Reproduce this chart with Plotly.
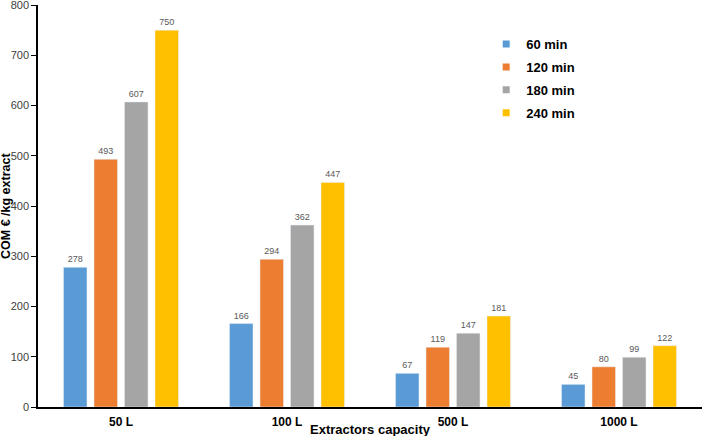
import plotly.graph_objects as go

categories = ["50 L", "100 L", "500 L", "1000 L"]
series_names = ["60 min", "120 min", "180 min", "240 min"]
v60 = [278, 166, 67, 45]
v120 = [493, 294, 119, 80]
v180 = [607, 362, 147, 99]
v240 = [750, 447, 181, 122]
colors = ["#5B9BD5", "#ED7D31", "#A5A5A5", "#FFC000"]

fig = go.Figure()
for name, vals, col in zip(series_names, [v60, v120, v180, v240], colors):
    fig.add_trace(go.Bar(
        x=categories, y=vals, name=name, marker_color=col, showlegend=False,
        text=[str(v) for v in vals], textposition="outside",
        textfont=dict(size=9, color="#595959", family="Liberation Sans, Arial"),
        cliponaxis=False,
    ))
# legend entries with small square symbols
for name, col in zip(series_names, colors):
    fig.add_trace(go.Scatter(
        x=[None], y=[None], mode="markers", name=name, legendgroup=name,
        marker=dict(symbol="square", size=7, color=col),
    ))

fig.update_layout(
    width=705, height=436,
    margin=dict(l=38, r=3, t=5, b=29),
    plot_bgcolor="white", paper_bgcolor="white",
    barmode="group", bargap=0.265, bargroupgap=0.23,
    font=dict(family="Liberation Sans, Arial", size=12, color="#000000"),
    showlegend=True,
    legend=dict(x=0.675, y=0.94, xanchor="left", yanchor="top",
                font=dict(size=13, color="#000000", family="Liberation Sans, Arial", weight="bold"),
                tracegroupgap=3, itemwidth=30, bgcolor="rgba(0,0,0,0)"),
    annotations=[
        dict(text="<b>Extractors capacity</b>", xref="paper", yref="paper",
             x=0.5, y=0, yshift=-22, xanchor="center", yanchor="middle",
             showarrow=False, font=dict(size=13, color="#000000")),
        dict(text="<b>COM € /kg extract</b>", xref="paper", yref="paper",
             x=0, y=0.5, xshift=-32, xanchor="center", yanchor="middle",
             textangle=-90, showarrow=False, borderpad=0,
             font=dict(size=12.5, color="#000000")),
    ],
)
fig.update_xaxes(
    showline=True, linecolor="#000000", linewidth=1.5,
    tickfont=dict(size=12, color="#000000", weight="bold"),
    ticks="", automargin=False, ticklabelstandoff=3,
)
fig.update_yaxes(
    range=[0, 800], dtick=100, showgrid=False, zeroline=False,
    showline=True, linecolor="#000000", linewidth=1.5,
    ticks="outside", ticklen=5, tickcolor="#000000",
    ticklabeloverflow="allow", automargin=False,
    tickfont=dict(size=11, color="#404040"),
)
fig.write_html("out.html", config={"displayModeBar": False},
               post_script="document.body.style.margin='0';")
